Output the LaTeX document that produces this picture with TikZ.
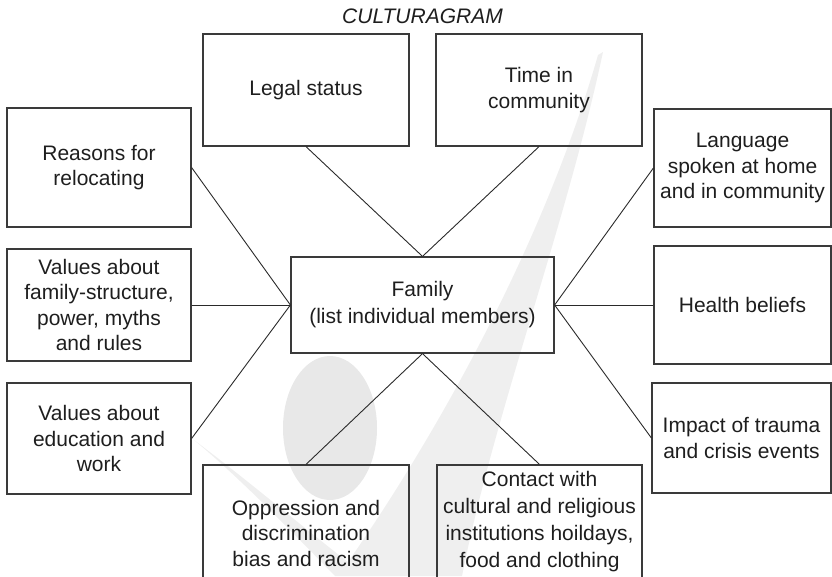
\documentclass[tikz,border=0pt]{standalone}
\usepackage{fontspec}
\setmainfont{Liberation Sans}
\definecolor{boxc}{HTML}{3A3A3A}
\definecolor{linec}{HTML}{2A2A2A}
\definecolor{txt}{HTML}{1E1E1E}
\definecolor{wmA}{HTML}{E8E8E8}
\definecolor{wmB}{HTML}{EFEFEF}
\begin{document}
\begin{tikzpicture}[x=1pt,y=-1pt,
  box/.style={draw=boxc, line width=1.2pt, rectangle, inner sep=0pt, align=center,
              font=\fontsize{21}{25.5}\selectfont, text=txt},
  link/.style={draw=linec, line width=0.9pt}]
\useasboundingbox (0,0) rectangle (832,576);
\clip (0,0) rectangle (832,576);
% faint watermark
\fill[wmB] (603,52) .. controls (565,230) and (495,410) .. (462,576) -- (335,576)
  .. controls (290,530) and (240,478) .. (194,440)
  .. controls (250,482) and (300,525) .. (348,562)
  .. controls (440,430) and (545,240) .. (598,55) -- cycle;
\fill[wmA] (330,428) ellipse [x radius=47, y radius=72];
% title
\node[inner sep=0pt, text=txt, font=\fontsize{21}{25}\selectfont\itshape] (title) at (422.5,16) {CULTURAGRAM};
% boxes
\node[box, minimum width=206pt, minimum height=112pt] (legal) at (306,90) {Legal status};
\node[box, minimum width=206pt, minimum height=112pt, font=\fontsize{21}{26}\selectfont] (time) at (539,90) {Time in\\community};
\node[box, minimum width=184pt, minimum height=119pt] (reasons) at (99,167.5) {Reasons for\\relocating};
\node[box, minimum width=184pt, minimum height=112pt] (valfam) at (99,305) {Values about\\family-structure,\\power, myths\\and rules};
\node[box, minimum width=184pt, minimum height=111pt] (valedu) at (99,438.5) {Values about\\education and\\work};
\node[box, minimum width=177pt, minimum height=118pt] (lang) at (742.5,168) {Language\\spoken at home\\and in community};
\node[box, minimum width=177pt, minimum height=118pt] (health) at (742.5,305) {Health beliefs};
\node[box, minimum width=179pt, minimum height=110pt] (impact) at (741.5,438) {Impact of trauma\\and crisis events};
\node[box, minimum width=263pt, minimum height=96pt, font=\fontsize{21}{27}\selectfont] (family) at (422.5,305) {Family\\(list individual members)};
\node[box, minimum width=206pt, minimum height=136pt] (oppr) at (306,533) {Oppression and\\discrimination\\bias and racism};
\node[box, minimum width=205pt, minimum height=114pt, font=\fontsize{21}{27}\selectfont] (contact) at (539.5,522) {Contact with\\cultural and religious\\institutions hoildays,\\food and clothing};
% connectors
\draw[link] (legal.south) -- (family.north);
\draw[link] (time.south) -- (family.north);
\draw[link] (reasons.east) -- (family.west);
\draw[link] (valfam.east) -- (family.west);
\draw[link] (valedu.east) -- (family.west);
\draw[link] (lang.west) -- (family.east);
\draw[link] (health.west) -- (family.east);
\draw[link] (impact.west) -- (family.east);
\draw[link] (oppr.north) -- (family.south);
\draw[link] (contact.north) -- (family.south);
\end{tikzpicture}
\end{document}
